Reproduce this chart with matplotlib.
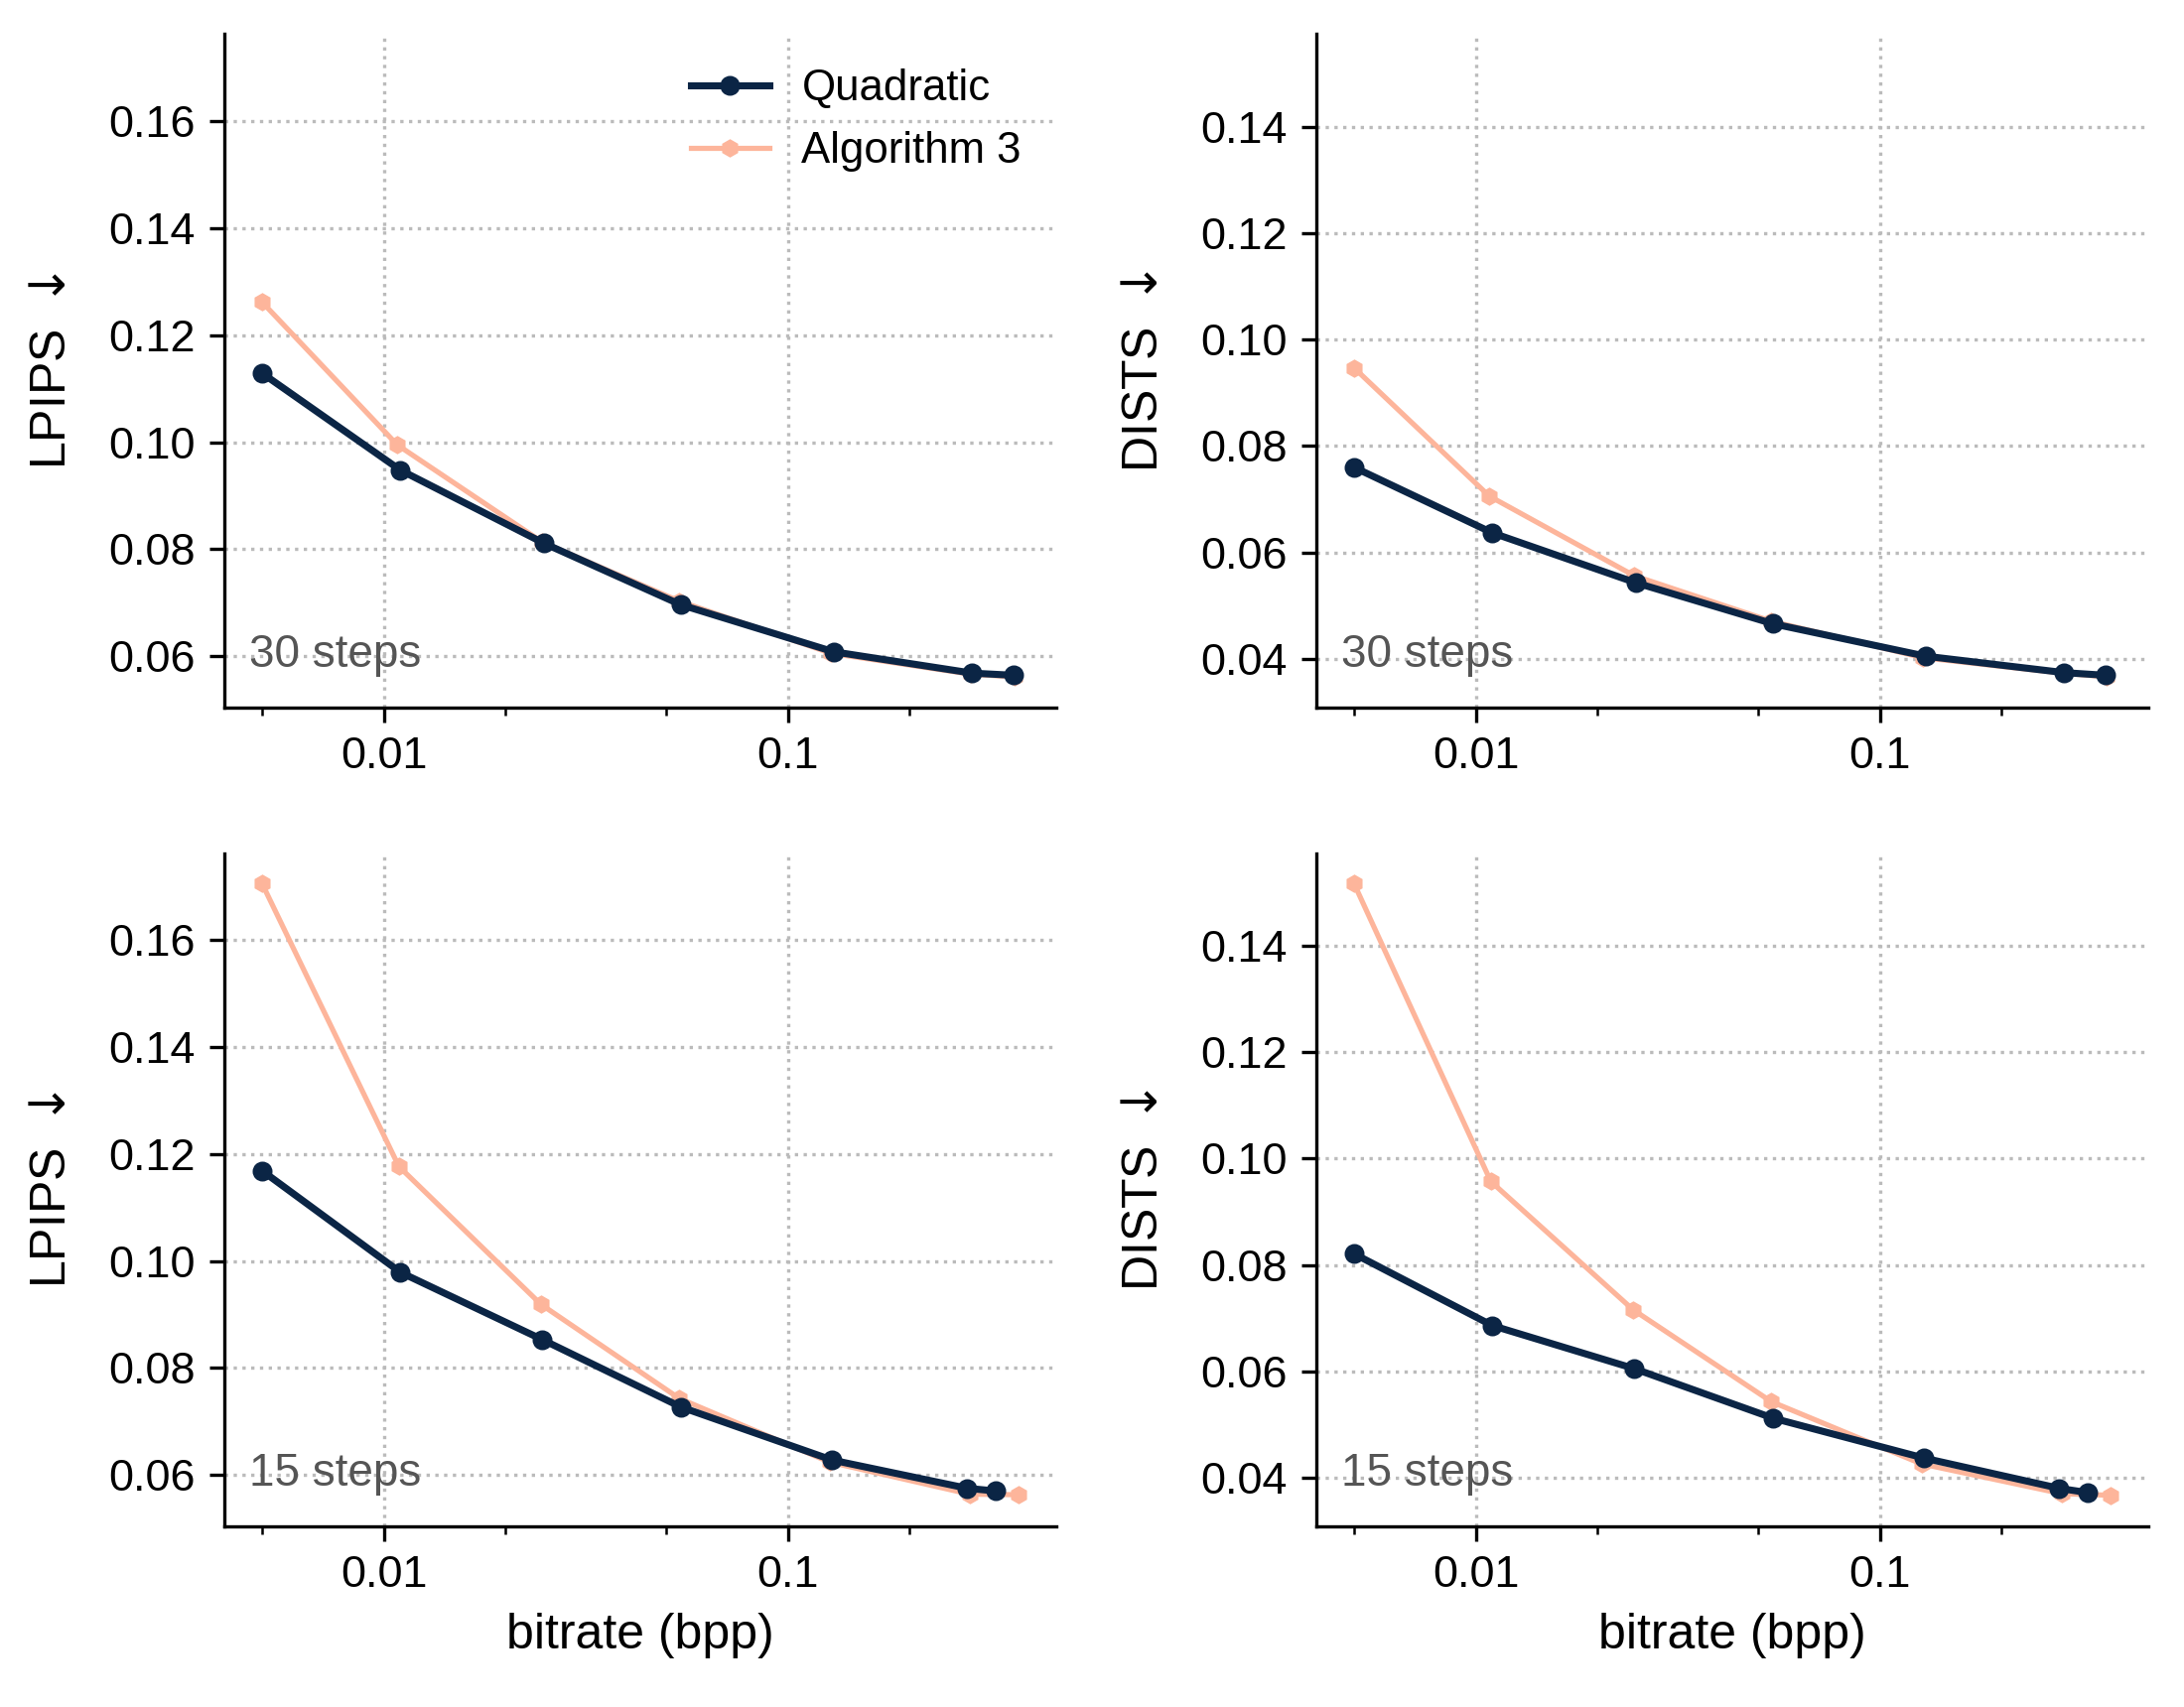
import matplotlib
matplotlib.use("Agg")
import matplotlib.pyplot as plt
from matplotlib.ticker import LogLocator, FixedLocator, NullFormatter, FixedFormatter, FormatStrFormatter

plt.rcParams['font.family'] = ['Liberation Sans', 'DejaVu Sans']
plt.rcParams['font.size'] = 10
plt.rcParams['mathtext.fontset'] = 'dejavusans'

# ---- data ----
# 30 steps
bpp_quad_30 = [0.0050, 0.01098, 0.0249, 0.0543, 0.1297, 0.286, 0.362]
bpp_alg3_30 = [0.0050, 0.0108, 0.0247, 0.0537, 0.1280, 0.284, 0.365]
lpips_quad_30 = [0.1129, 0.0948, 0.0811, 0.0696, 0.0608, 0.0568, 0.0564]
lpips_alg3_30 = [0.1262, 0.0995, 0.0813, 0.0703, 0.0605, 0.0566, 0.0561]
dists_quad_30 = [0.0760, 0.0637, 0.0543, 0.0466, 0.0405, 0.0374, 0.0369]
dists_alg3_30 = [0.0947, 0.0706, 0.0556, 0.0471, 0.0402, 0.0373, 0.0366]
# 15 steps
bpp_quad_15 = [0.0050, 0.0110, 0.0247, 0.0544, 0.1285, 0.278, 0.327]
bpp_alg3_15 = [0.0050, 0.0109, 0.0245, 0.0539, 0.1268, 0.282, 0.372]
lpips_quad_15 = [0.1169, 0.0979, 0.0853, 0.0727, 0.0628, 0.0575, 0.0570]
lpips_alg3_15 = [0.1706, 0.1177, 0.0919, 0.0743, 0.0624, 0.0564, 0.0563]
dists_quad_15 = [0.0821, 0.0686, 0.0605, 0.0512, 0.0437, 0.0380, 0.0372]
dists_alg3_15 = [0.1517, 0.0957, 0.0716, 0.0543, 0.0426, 0.0370, 0.0367]

series_names = ["Quadratic", "Algorithm 3"]
step_labels = ["30 steps", "15 steps"]
metric_labels = ["LPIPS $\\downarrow$", "DISTS $\\downarrow$"]
x_tick_vals = [0.01, 0.1]
x_tick_labels = ["0.01", "0.1"]
lpips_ticks = [0.06, 0.08, 0.10, 0.12, 0.14, 0.16]
dists_ticks = [0.04, 0.06, 0.08, 0.10, 0.12, 0.14]

c_quad = '#0b2545'
c_alg3 = '#fdb59b'

fig, axes = plt.subplots(2, 2, figsize=(2200/300, 1720/300), dpi=300,
                         sharex=True, sharey='col')
fig.subplots_adjust(left=0.1027, right=0.9836, bottom=0.1058, top=0.98,
                    wspace=0.3126, hspace=0.2162)

panels = [
    [(bpp_quad_30, lpips_quad_30, bpp_alg3_30, lpips_alg3_30),
     (bpp_quad_30, dists_quad_30, bpp_alg3_30, dists_alg3_30)],
    [(bpp_quad_15, lpips_quad_15, bpp_alg3_15, lpips_alg3_15),
     (bpp_quad_15, dists_quad_15, bpp_alg3_15, dists_alg3_15)],
]

for r in range(2):
    for c in range(2):
        ax = axes[r, c]
        xq, yq, xa, ya = panels[r][c]
        ax.plot(xa, ya, color=c_alg3, lw=1.25, marker='h', ms=3.3,
                label=series_names[1], zorder=2)
        ax.plot(xq, yq, color=c_quad, lw=1.7, marker='o', ms=3.8,
                label=series_names[0], zorder=3)
        ax.set_xscale('log')
        ax.xaxis.set_major_locator(FixedLocator(x_tick_vals))
        ax.xaxis.set_major_formatter(FixedFormatter(x_tick_labels))
        ax.xaxis.set_minor_locator(LogLocator(base=10, subs=(2, 5)))
        ax.xaxis.set_minor_formatter(NullFormatter())
        ax.tick_params(axis='x', which='both', labelbottom=True)
        ax.tick_params(axis='both', which='major', labelsize=10.8)
        ax.spines['top'].set_visible(False)
        ax.spines['right'].set_visible(False)
        ax.grid(True, which='major', linestyle=':', color='#bbbbbb', lw=0.8)
        ax.set_axisbelow(True)
        ax.set_ylabel(metric_labels[c], fontsize=12, labelpad=8)
        ax.text(0.03, 0.06, step_labels[r], transform=ax.transAxes,
                color='#555555', fontsize=11, va='baseline', ha='left')
        if r == 1:
            ax.set_xlabel("bitrate (bpp)", fontsize=12)

axes[0, 0].set_yticks(lpips_ticks)
axes[0, 1].set_yticks(dists_ticks)
for c in range(2):
    axes[0, c].yaxis.set_major_formatter(FormatStrFormatter('%.2f'))

h, l = axes[0, 0].get_legend_handles_labels()
axes[0, 0].legend(h[::-1], l[::-1], loc='upper right', frameon=False, fontsize=10.5,
                  handlelength=1.8, handletextpad=0.75, borderaxespad=0.4)

fig.savefig("out.png", dpi=300)
